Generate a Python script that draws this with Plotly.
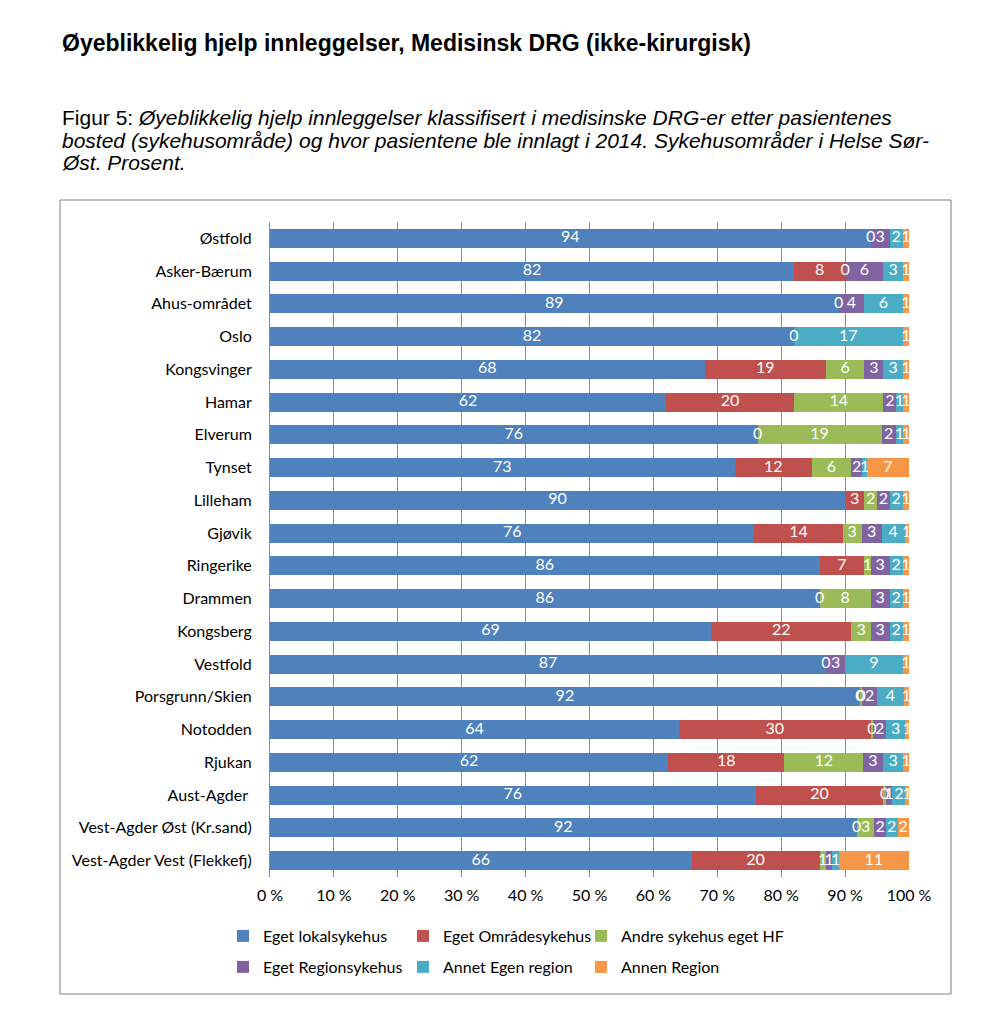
import plotly.graph_objects as go

categories = ["Østfold", "Asker-Bærum", "Ahus-området", "Oslo", "Kongsvinger", "Hamar",
              "Elverum", "Tynset", "Lilleham", "Gjøvik", "Ringerike", "Drammen",
              "Kongsberg", "Vestfold", "Porsgrunn/Skien", "Notodden", "Rjukan",
              "Aust-Agder ", "Vest-Agder Øst (Kr.sand)", "Vest-Agder Vest (Flekkefj)"]

series_names = ["Eget lokalsykehus", "Eget Områdesykehus", "Andre sykehus eget HF",
                "Eget Regionsykehus", "Annet Egen region", "Annen Region"]

eget_lokal =   [94, 82, 89, 82, 68, 62, 76.3, 72.7, 90, 75.8, 86, 86, 69, 87, 92.3, 64, 62.3, 76, 91.8, 66]
eget_omrade =  [0, 8, 0, 0, 19, 20, 0, 12.1, 3, 13.8, 7, 0, 22, 0, 0, 30, 18.2, 20, 0, 20]
andre_hf =     [None, 0, None, None, 6, 14, 19.4, 6.1, 2, 3.0, 1, 8, 3, None, 0.4, 0.4, 12.3, 0.4, 2.8, 1]
eget_region =  [3, 6, 4, None, 3, 2, 2.2, 1.8, 2, 3.1, 3, 3, 3, 3, 2.3, 2, 3.1, 1, 1.8, 1]
annet_egen =   [2, 3, 6, 17, 3, 1, 1.2, 0.7, 2, 3.6, 2, 2, 2, 9, 4.2, 3, 3.2, 2, 1.8, 1]
annen_region = [1, 1, 1, 1, 1, 1, 0.9, 6.6, 1, 0.7, 1, 1, 1, 1, 0.8, 0.6, 0.9, 0.6, 1.8, 11]

series_values = [eget_lokal, eget_omrade, andre_hf, eget_region, annet_egen, annen_region]
colors = ["#4F81BD", "#C0504D", "#9BBB59", "#8064A2", "#4BACC6", "#F79646"]

tick_vals = [0, 10, 20, 30, 40, 50, 60, 70, 80, 90, 100]
tick_text = [f"{v} %" for v in tick_vals]

OFF = 8
FW, FH = 991 - OFF, 1016 - OFF
L, R, T, B = 270 - OFF, 909 - OFF, 222 - OFF, 877 - OFF
W, H = R - L, B - T
def px(x):
    return (x - OFF - L) / W
def py(y):
    return (B - (y - OFF)) / H

legend_ids = ["legend", "legend2", "legend3", "legend4", "legend5", "legend6"]
legend_pos = [(223, 919), (403, 919), (581, 919), (223, 950), (403, 950), (581, 950)]

fig = go.Figure()
for name, vals, col, lg in zip(series_names, series_values, colors, legend_ids):
    fig.add_trace(go.Bar(
        y=categories, x=vals, name=name, orientation="h", legend=lg,
        marker=dict(color=col, line=dict(width=0)),
        hoverinfo="x+name",
    ))

# data labels (incl. zero values) at segment centres
cum = [0.0] * len(categories)
lx, ly, lt = [], [], []
for vals in series_values:
    for i, v in enumerate(vals):
        if v is None:
            continue
        lx.append(cum[i] + v / 2)
        ly.append(categories[i])
        lt.append(str(int(round(v))))
        cum[i] += v
fig.add_trace(go.Scatter(x=lx, y=ly, text=lt, mode="text", textposition="middle center",
                         textfont=dict(family="Lato", size=16, color="white"),
                         showlegend=False, cliponaxis=False, hoverinfo="skip"))

legend_common = dict(orientation="h", xanchor="left", yanchor="top",
                     font=dict(family="Lato", size=16, color="black"),
                     itemclick=False, itemdoubleclick=False, bgcolor="rgba(0,0,0,0)")
legend_layout = {lg: dict(x=px(lx_), y=py(ly_), **legend_common)
                 for lg, (lx_, ly_) in zip(legend_ids, legend_pos)}

fig.update_layout(
    width=FW, height=FH,
    margin=dict(l=L, r=FW - R, t=T, b=FH - B, autoexpand=False),
    barmode="stack", bargap=0.42,
    paper_bgcolor="white", plot_bgcolor="white",
    showlegend=True,
    xaxis=dict(range=[0, 100], tickvals=tick_vals, ticktext=tick_text,
               showgrid=True, gridcolor="#8C8C8C", gridwidth=1, zeroline=False,
               showline=False, ticks="", tickfont=dict(family="Lato", size=16, color="black"),
               ticklabelstandoff=7, fixedrange=True),
    yaxis=dict(range=[len(categories) - 0.5, -0.5], showline=True, linecolor="#8C8C8C",
               linewidth=1, ticks="", tickfont=dict(family="Lato", size=16, color="black"),
               ticklabelstandoff=14, fixedrange=True),
    font=dict(family="Lato"),
    **legend_layout,
)

fig.add_shape(type="rect", xref="paper", yref="paper",
              x0=px(60), x1=px(951), y0=py(994), y1=py(200),
              line=dict(color="#7F7F7F", width=1), fillcolor="rgba(0,0,0,0)", layer="below")

fig.add_annotation(xref="paper", yref="paper", x=px(60), y=py(43), xanchor="left", yanchor="middle",
                   showarrow=False, align="left",
                   text="<b>Øyeblikkelig hjelp innleggelser, Medisinsk DRG (ikke-kirurgisk)</b>",
                   font=dict(family="Liberation Sans", size=23, color="black"))

caption_lines = [
    "Figur 5: <i>Øyeblikkelig hjelp innleggelser klassifisert i medisinske DRG-er etter pasientenes</i>",
    "<i>bosted (sykehusområde) og hvor pasientene ble innlagt i 2014. Sykehusområder i Helse Sør-</i>",
    "<i>Øst. Prosent.</i>",
]
for k, line in enumerate(caption_lines):
    fig.add_annotation(xref="paper", yref="paper", x=px(60), y=py(117 + 23 * k),
                       xanchor="left", yanchor="middle", showarrow=False, align="left",
                       text=line, font=dict(family="Liberation Sans", size=21, color="black"))

fig.write_html("out.html")
